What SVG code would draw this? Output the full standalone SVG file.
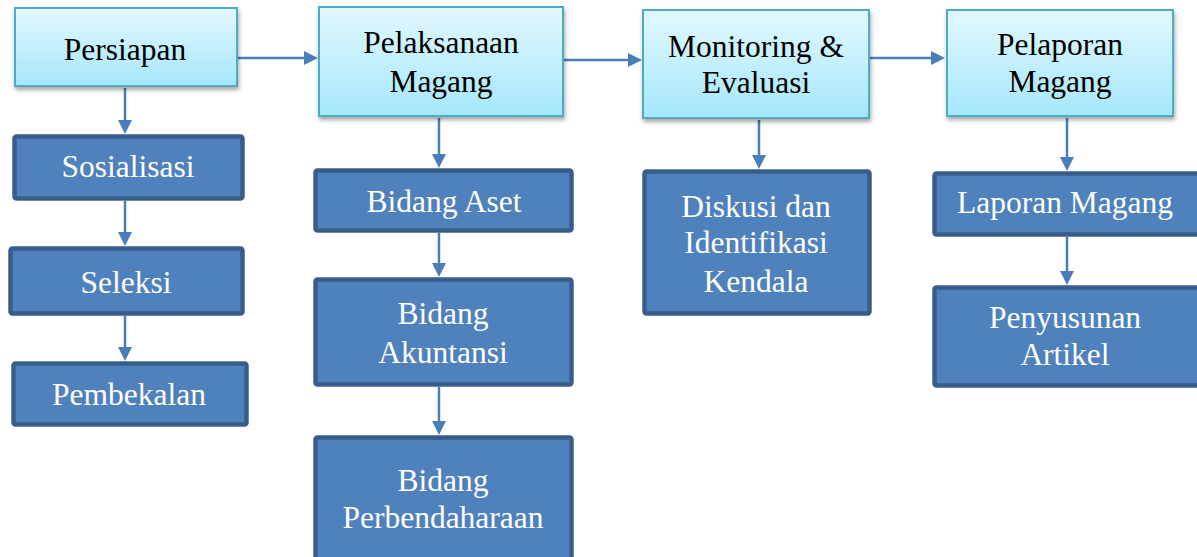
<svg xmlns="http://www.w3.org/2000/svg" width="1197" height="557" viewBox="0 0 1197 557">
<defs>
<linearGradient id="lg" x1="0" y1="0" x2="0" y2="1">
<stop offset="0" stop-color="#e2f8fe"/>
<stop offset="1" stop-color="#a5e7fb"/>
</linearGradient>
<filter id="sh" x="-10%" y="-10%" width="120%" height="130%">
<feDropShadow dx="1" dy="3" stdDeviation="2" flood-color="#000" flood-opacity="0.35"/>
</filter>
<marker id="ah" viewBox="0 0 14 14" refX="6" refY="7" markerWidth="14" markerHeight="14" markerUnits="userSpaceOnUse" orient="auto">
<path d="M0,0 L14,7 L0,14 z" fill="#4a7ebb"/>
</marker>
<style>
.lt{fill:url(#lg);stroke:#4bacc6;stroke-width:2;filter:url(#sh)}
.dk{fill:#4f81bd;stroke:#385d8a;stroke-width:4.5}
.tb{font-family:'Liberation Serif','Times New Roman','DejaVu Serif',serif;font-size:31.5px;fill:#000;text-anchor:middle}
.tw{font-family:'Liberation Serif','Times New Roman','DejaVu Serif',serif;font-size:31.5px;fill:#fff;text-anchor:middle}
.cn{stroke:#4a7ebb;stroke-width:2.5;fill:none;marker-end:url(#ah)}
</style>
</defs>
<rect width="1197" height="557" fill="#fff"/>
<g id="connectors">
<line class="cn" x1="236" y1="58" x2="310" y2="58"/>
<line class="cn" x1="564" y1="60" x2="634" y2="60"/>
<line class="cn" x1="870" y1="58" x2="937" y2="58"/>
<line class="cn" x1="125" y1="88" x2="125" y2="126"/>
<line class="cn" x1="125" y1="201" x2="125" y2="238"/>
<line class="cn" x1="125" y1="316" x2="125" y2="353"/>
<line class="cn" x1="439" y1="118" x2="439" y2="160"/>
<line class="cn" x1="439" y1="233" x2="439" y2="269"/>
<line class="cn" x1="439" y1="387" x2="439" y2="427"/>
<line class="cn" x1="759" y1="120" x2="759" y2="161"/>
<line class="cn" x1="1067" y1="118" x2="1067" y2="163"/>
<line class="cn" x1="1067" y1="237" x2="1067" y2="277"/>
</g>
<g font-family="'Liberation Serif', 'Times New Roman', serif">
<g id="persiapan">
<rect class="lt" x="15" y="8" width="222" height="78"/>
<text class="tb" x="125" y="60">Persiapan</text>
</g>
<g id="pelaksanaan">
<rect class="lt" x="319" y="7" width="244" height="109"/>
<text class="tb" x="441" y="53">Pelaksanaan</text>
<text class="tb" x="441" y="92">Magang</text>
</g>
<g id="monitoring">
<rect class="lt" x="643" y="10" width="226" height="108"/>
<text class="tb" x="756" y="57">Monitoring &amp;</text>
<text class="tb" x="756" y="93">Evaluasi</text>
</g>
<g id="pelaporan">
<rect class="lt" x="947" y="10" width="226" height="106"/>
<text class="tb" x="1060" y="55">Pelaporan</text>
<text class="tb" x="1060" y="92">Magang</text>
</g>
<g id="sosialisasi">
<rect class="dk" x="14.5" y="136.5" width="228" height="62" rx="2"/>
<text class="tw" x="128" y="177">Sosialisasi</text>
</g>
<g id="seleksi">
<rect class="dk" x="10.5" y="248.5" width="232" height="65" rx="2"/>
<text class="tw" x="126" y="293">Seleksi</text>
</g>
<g id="pembekalan">
<rect class="dk" x="13.5" y="363.5" width="233" height="61" rx="2"/>
<text class="tw" x="129" y="405">Pembekalan</text>
</g>
<g id="bidang-aset">
<rect class="dk" x="315.5" y="170.5" width="256" height="60" rx="2"/>
<text class="tw" x="444" y="212">Bidang Aset</text>
</g>
<g id="bidang-akuntansi">
<rect class="dk" x="315.5" y="279.5" width="256" height="105" rx="2"/>
<text class="tw" x="443" y="324">Bidang</text>
<text class="tw" x="443" y="363">Akuntansi</text>
</g>
<g id="bidang-perbendaharaan">
<rect class="dk" x="315.5" y="437.5" width="256" height="130" rx="2"/>
<text class="tw" x="443" y="491">Bidang</text>
<text class="tw" x="443" y="528">Perbendaharaan</text>
</g>
<g id="diskusi">
<rect class="dk" x="644.5" y="171.5" width="225" height="142" rx="2"/>
<text class="tw" x="756" y="217">Diskusi dan</text>
<text class="tw" x="756" y="253">Identifikasi</text>
<text class="tw" x="756" y="292">Kendala</text>
</g>
<g id="laporan-magang">
<rect class="dk" x="934.5" y="173.5" width="270" height="61" rx="2"/>
<text class="tw" x="1065" y="213">Laporan Magang</text>
</g>
<g id="penyusunan-artikel">
<rect class="dk" x="934.5" y="287.5" width="270" height="98" rx="2"/>
<text class="tw" x="1065" y="328">Penyusunan</text>
<text class="tw" x="1065" y="365">Artikel</text>
</g>
</g>
</svg>
